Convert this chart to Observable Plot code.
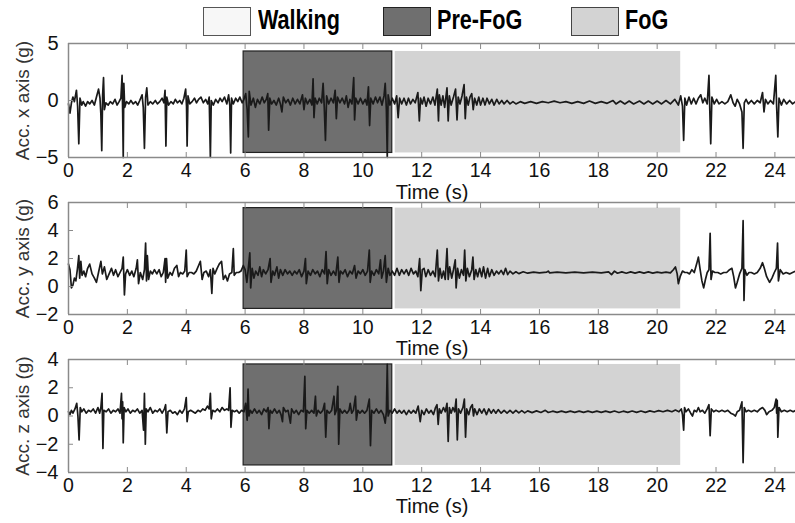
<!DOCTYPE html>
<html><head><meta charset="utf-8">
<script src="https://cdn.jsdelivr.net/npm/d3@7"></script>
<script src="https://cdn.jsdelivr.net/npm/@observablehq/plot@0.6"></script>
<style>
html,body{margin:0;padding:0;background:#fff;}
#root{position:relative;width:795px;height:523px;overflow:hidden;font-family:"Liberation Sans",Arial,sans-serif;}
.panel{position:absolute;left:0;}
.lbox{position:absolute;top:7px;width:48px;height:29px;border:1.5px solid #444;box-sizing:border-box;}
.ltext{position:absolute;top:3px;font-weight:bold;font-size:27px;line-height:34px;color:#000;transform:scaleX(0.8);transform-origin:left center;white-space:nowrap;}
</style></head><body><div id="root"></div>
<script>
// ---- data (time in s, acceleration in g) ----
const accX = [[0,-0.3],[0.05,-1.1],[0.1,-0.2],[0.15,0.3],[0.2,-0.1],[0.27,0.9],[0.31,-0.5],[0.35,-3.8],[0.39,0.2],[0.45,-0.4],[0.5,-0.1],[0.58,-0.5],[0.65,-0.1],[0.72,-0.3],[0.8,0.0],[0.88,-0.4],[0.95,0.3],[1.02,1.0],[1.07,0.2],[1.1,-1.2],[1.13,-4.4],[1.16,0.5],[1.19,2.0],[1.22,-0.8],[1.27,-0.2],[1.35,-0.4],[1.42,-0.1],[1.5,-0.3],[1.58,0.1],[1.65,-0.4],[1.72,-0.1],[1.78,0.2],[1.82,2.2],[1.84,-1.0],[1.86,-5.0],[1.88,1.5],[1.91,-0.6],[1.97,-0.1],[2.05,-0.3],[2.12,0.0],[2.2,-0.3],[2.28,-0.1],[2.35,-0.4],[2.42,0.0],[2.5,0.5],[2.54,-0.6],[2.58,-4.2],[2.62,0.3],[2.66,1.1],[2.7,-0.4],[2.78,-0.1],[2.86,-0.3],[2.95,0.0],[3.02,-0.3],[3.1,-0.1],[3.18,0.2],[3.24,-0.2],[3.28,0.9],[3.31,-4.0],[3.34,0.3],[3.4,-0.4],[3.48,-0.1],[3.56,-0.3],[3.63,0.1],[3.7,-0.2],[3.78,0.0],[3.85,-0.3],[3.92,0.2],[3.98,1.0],[4.01,-0.5],[4.03,-4.0],[4.06,0.4],[4.12,-0.3],[4.2,-0.1],[4.28,0.2],[4.35,-0.2],[4.42,0.1],[4.5,0.3],[4.58,-0.2],[4.66,0.1],[4.73,-0.3],[4.78,0.3],[4.82,-5.0],[4.85,0.0],[4.92,-0.4],[5.0,0.1],[5.08,-0.2],[5.15,0.2],[5.22,-0.1],[5.3,0.3],[5.38,-0.3],[5.44,0.5],[5.48,-0.4],[5.51,-4.6],[5.54,0.2],[5.6,-0.3],[5.68,0.2],[5.75,-0.1],[5.82,0.3],[5.9,-0.2],[5.96,0.1],[6.02,0.6],[6.07,-0.8],[6.11,-3.2],[6.14,0.8],[6.2,-0.4],[6.28,0.2],[6.35,-0.6],[6.42,0.1],[6.5,-0.3],[6.58,0.3],[6.65,-0.2],[6.72,0.1],[6.77,0.6],[6.8,-2.6],[6.84,0.2],[6.9,-0.3],[6.98,0.0],[7.06,-0.4],[7.14,0.2],[7.2,-0.3],[7.25,-1.0],[7.3,0.3],[7.38,-0.2],[7.46,0.1],[7.54,-0.4],[7.62,0.2],[7.7,-0.3],[7.78,0.1],[7.86,-0.3],[7.95,0.5],[8.0,-0.8],[8.05,0.2],[8.12,-0.3],[8.2,0.1],[8.27,-0.4],[8.31,1.9],[8.34,-1.5],[8.38,0.2],[8.45,-0.3],[8.52,0.2],[8.6,-0.2],[8.65,1.5],[8.69,-0.6],[8.73,-3.5],[8.77,0.4],[8.84,-0.3],[8.92,0.2],[9.0,-0.2],[9.06,0.9],[9.1,-1.6],[9.14,0.3],[9.22,-0.2],[9.3,0.2],[9.38,-0.3],[9.44,0.4],[9.5,-0.6],[9.56,0.1],[9.63,-0.3],[9.69,2.0],[9.72,-1.7],[9.76,0.2],[9.84,-0.3],[9.92,0.2],[10.0,-0.3],[10.08,0.1],[10.14,-0.4],[10.19,1.2],[10.23,-2.2],[10.27,0.2],[10.35,-0.3],[10.43,0.3],[10.5,-0.2],[10.58,0.3],[10.65,-0.4],[10.72,0.4],[10.76,1.5],[10.8,-0.8],[10.83,-5.0],[10.86,0.5],[10.92,-0.4],[11.0,0.2],[11.08,-0.3],[11.15,0.4],[11.2,-1.5],[11.25,0.2],[11.32,-0.3],[11.4,0.2],[11.48,-0.4],[11.55,0.2],[11.62,-0.3],[11.7,0.1],[11.78,-0.2],[11.87,0.7],[11.92,-1.8],[11.96,0.2],[12.02,-0.3],[12.08,0.3],[12.15,-0.5],[12.22,0.2],[12.3,-0.3],[12.38,0.3],[12.45,-0.4],[12.53,1.0],[12.57,-1.8],[12.6,0.5],[12.66,-0.4],[12.72,0.4],[12.78,-0.6],[12.86,1.1],[12.9,-1.8],[12.94,0.4],[13.0,-0.4],[13.08,0.3],[13.15,1.0],[13.2,-1.7],[13.24,0.3],[13.3,-0.3],[13.37,0.4],[13.44,1.4],[13.48,-1.6],[13.52,0.3],[13.58,-0.4],[13.64,0.3],[13.7,0.6],[13.75,-0.8],[13.8,0.2],[13.87,-0.4],[13.94,0.3],[14.0,-0.4],[14.08,0.2],[14.15,-0.4],[14.22,0.2],[14.3,-0.3],[14.38,0.1],[14.46,-0.4],[14.55,0.1],[14.63,-0.3],[14.72,0.0],[14.8,-0.3],[14.9,0.0],[15.0,-0.3],[15.1,-0.1],[15.2,-0.3],[15.35,-0.1],[15.5,-0.25],[15.7,-0.1],[15.9,-0.25],[16.1,-0.1],[16.3,-0.2],[16.5,-0.05],[16.7,-0.2],[16.9,-0.1],[17.1,-0.25],[17.3,-0.1],[17.5,-0.25],[17.7,-0.05],[17.9,-0.25],[18.1,-0.1],[18.3,-0.25],[18.5,0.0],[18.6,-0.3],[18.75,-0.05],[18.9,-0.3],[19.05,-0.05],[19.2,-0.3],[19.4,-0.05],[19.55,-0.3],[19.7,-0.05],[19.85,-0.3],[20.0,-0.05],[20.15,-0.3],[20.3,0.0],[20.45,-0.3],[20.6,0.1],[20.72,-0.4],[20.8,0.4],[20.86,-0.5],[20.9,-3.5],[20.94,0.2],[21.0,-0.4],[21.08,0.3],[21.16,-0.3],[21.24,0.2],[21.32,-0.3],[21.4,0.2],[21.48,0.5],[21.55,-0.2],[21.62,0.2],[21.7,-0.3],[21.76,2.2],[21.79,-1.0],[21.82,-3.8],[21.86,0.3],[21.94,-0.3],[22.02,0.1],[22.1,-0.3],[22.2,-0.1],[22.3,-0.3],[22.4,-0.1],[22.5,0.5],[22.58,-0.2],[22.65,-0.5],[22.72,0.1],[22.8,-0.3],[22.88,-1.0],[22.92,-4.2],[22.96,-0.2],[23.02,0.1],[23.1,-0.3],[23.2,0.0],[23.3,-0.3],[23.4,0.0],[23.5,-0.2],[23.58,0.7],[23.63,-1.0],[23.68,0.1],[23.76,-0.3],[23.85,0.0],[23.95,-0.3],[24.03,2.2],[24.06,-0.6],[24.1,-3.2],[24.14,0.2],[24.22,-0.4],[24.3,0.1],[24.4,-0.3],[24.5,0.0],[24.6,-0.3],[24.7,-0.1]];

const accY = [[0,1.6],[0.05,1.2],[0.1,-0.1],[0.15,0.1],[0.2,0.6],[0.25,0.4],[0.3,1.2],[0.35,2.2],[0.38,0.6],[0.42,1.8],[0.46,0.8],[0.52,1.1],[0.58,0.7],[0.65,1.3],[0.72,1.6],[0.8,0.9],[0.88,0.6],[0.95,0.3],[1.02,1.0],[1.1,1.8],[1.15,0.9],[1.22,1.4],[1.3,0.5],[1.38,0.9],[1.46,1.3],[1.53,0.8],[1.6,1.2],[1.68,0.7],[1.75,1.0],[1.82,1.3],[1.86,2.1],[1.9,-0.6],[1.94,0.9],[2.0,1.2],[2.08,0.8],[2.15,1.1],[2.22,0.7],[2.3,1.3],[2.34,1.9],[2.38,0.2],[2.44,1.0],[2.52,0.5],[2.58,1.2],[2.62,3.1],[2.65,0.4],[2.68,2.2],[2.72,0.5],[2.78,1.1],[2.85,0.9],[2.92,1.2],[3.0,0.9],[3.08,1.2],[3.15,0.7],[3.22,1.0],[3.28,2.0],[3.3,0.3],[3.33,2.0],[3.37,0.6],[3.45,1.0],[3.52,0.8],[3.6,1.3],[3.68,1.5],[3.74,0.7],[3.8,1.0],[3.88,0.9],[3.95,1.1],[4.0,2.6],[4.03,0.7],[4.1,1.0],[4.18,1.0],[4.26,0.9],[4.34,1.1],[4.42,1.5],[4.48,1.8],[4.54,0.5],[4.6,1.0],[4.68,1.1],[4.76,0.7],[4.82,1.2],[4.87,-0.5],[4.91,1.3],[4.97,0.9],[5.05,1.3],[5.12,1.6],[5.2,1.8],[5.26,0.5],[5.33,0.8],[5.4,0.4],[5.47,0.9],[5.55,1.0],[5.6,2.7],[5.63,0.8],[5.7,1.0],[5.78,1.0],[5.86,1.1],[5.94,1.5],[6.0,1.2],[6.06,0.3],[6.1,1.1],[6.16,2.4],[6.19,-0.1],[6.24,1.3],[6.3,0.6],[6.36,1.1],[6.44,0.8],[6.5,1.4],[6.56,0.7],[6.62,1.2],[6.7,0.9],[6.78,1.2],[6.85,2.0],[6.88,0.3],[6.94,1.1],[7.0,0.8],[7.08,1.4],[7.14,0.6],[7.2,1.2],[7.28,0.8],[7.36,1.2],[7.44,0.9],[7.52,1.1],[7.6,0.8],[7.68,1.1],[7.76,0.9],[7.84,1.2],[7.92,0.7],[8.0,1.1],[8.05,2.0],[8.08,0.2],[8.14,1.1],[8.22,0.8],[8.3,1.2],[8.38,0.9],[8.46,1.1],[8.54,0.7],[8.62,1.2],[8.7,0.9],[8.75,2.5],[8.79,0.2],[8.84,1.2],[8.92,0.8],[9.0,1.1],[9.08,0.8],[9.15,2.1],[9.19,0.3],[9.24,1.1],[9.32,0.9],[9.4,1.2],[9.48,0.7],[9.56,1.1],[9.64,0.9],[9.72,1.5],[9.77,0.6],[9.84,1.1],[9.92,0.9],[10.0,1.2],[10.08,0.8],[10.16,1.1],[10.22,2.6],[10.25,0.3],[10.3,1.1],[10.38,0.8],[10.46,1.2],[10.54,0.9],[10.6,1.9],[10.64,0.6],[10.7,1.1],[10.76,2.2],[10.8,0.3],[10.86,1.3],[10.92,0.8],[11.0,1.1],[11.08,0.8],[11.16,1.3],[11.24,0.8],[11.32,1.2],[11.4,0.9],[11.48,1.2],[11.56,0.8],[11.64,1.3],[11.72,0.9],[11.8,1.1],[11.87,0.7],[11.93,2.0],[11.97,-0.3],[12.02,1.2],[12.08,1.3],[12.14,0.7],[12.22,1.2],[12.3,0.8],[12.38,1.1],[12.46,0.7],[12.53,2.6],[12.57,0.4],[12.62,1.3],[12.68,0.6],[12.74,1.1],[12.8,0.5],[12.86,2.7],[12.9,0.5],[12.95,1.4],[13.02,0.6],[13.08,1.2],[13.14,1.9],[13.17,-0.1],[13.22,1.3],[13.28,0.6],[13.35,1.2],[13.42,0.8],[13.46,2.6],[13.5,0.4],[13.55,1.3],[13.62,0.7],[13.7,1.2],[13.74,2.1],[13.78,0.5],[13.84,1.2],[13.9,0.7],[13.97,1.3],[14.04,0.7],[14.1,1.4],[14.17,0.6],[14.24,1.3],[14.3,0.7],[14.38,1.2],[14.46,0.8],[14.54,1.1],[14.62,0.9],[14.7,1.15],[14.78,0.85],[14.85,1.3],[14.92,0.85],[15.0,1.1],[15.1,0.9],[15.2,1.05],[15.3,0.92],[15.45,1.05],[15.6,0.95],[15.8,1.03],[16.0,0.97],[16.25,1.03],[16.3,1.1],[16.35,0.97],[16.6,1.02],[16.9,0.97],[17.2,1.02],[17.5,0.97],[17.8,1.02],[18.1,0.97],[18.35,1.04],[18.45,0.85],[18.55,1.1],[18.65,0.95],[18.8,1.04],[18.95,0.95],[19.1,1.04],[19.25,0.96],[19.4,1.04],[19.55,0.96],[19.7,1.04],[19.85,0.96],[20.0,1.03],[20.15,0.97],[20.3,1.03],[20.45,0.97],[20.55,1.2],[20.62,1.4],[20.68,0.9],[20.72,0.2],[20.78,0.7],[20.86,1.1],[20.94,1.0],[21.02,1.0],[21.1,0.9],[21.18,1.2],[21.26,1.0],[21.34,1.6],[21.4,2.1],[21.46,1.2],[21.52,0.4],[21.58,-0.1],[21.64,0.5],[21.7,1.0],[21.76,1.2],[21.8,3.8],[21.83,0.5],[21.88,1.1],[21.96,1.0],[22.06,1.0],[22.16,0.9],[22.26,1.0],[22.36,1.0],[22.46,1.2],[22.54,1.3],[22.6,0.7],[22.66,-0.1],[22.72,0.3],[22.8,0.9],[22.88,1.3],[22.92,4.7],[22.95,-1.0],[22.98,1.2],[23.05,0.8],[23.12,1.0],[23.2,1.0],[23.3,0.9],[23.4,1.0],[23.5,1.3],[23.58,1.7],[23.64,1.3],[23.72,0.7],[23.82,0.3],[23.9,0.6],[23.98,1.0],[24.05,1.3],[24.09,3.1],[24.12,0.4],[24.18,1.2],[24.28,0.9],[24.38,1.0],[24.5,0.9],[24.6,1.0],[24.7,1.1]];

const accZ = [[0,0.3],[0.05,0.1],[0.1,0.4],[0.15,0.2],[0.22,0.5],[0.28,0.9],[0.32,0.0],[0.36,-1.7],[0.4,0.6],[0.45,0.3],[0.52,0.5],[0.6,0.2],[0.68,0.4],[0.76,0.3],[0.84,0.5],[0.92,0.2],[1.0,0.6],[1.06,0.2],[1.1,0.6],[1.14,1.6],[1.17,-2.3],[1.2,0.4],[1.28,0.3],[1.36,0.5],[1.44,0.2],[1.52,0.4],[1.6,0.3],[1.68,0.5],[1.75,0.2],[1.8,1.6],[1.82,-0.2],[1.84,1.0],[1.86,-1.9],[1.89,0.6],[1.95,0.3],[2.02,0.5],[2.1,0.2],[2.18,0.4],[2.26,0.3],[2.34,0.5],[2.42,0.2],[2.5,0.4],[2.55,-1.0],[2.58,1.6],[2.61,-2.0],[2.64,0.5],[2.7,0.3],[2.78,0.6],[2.86,0.2],[2.94,0.4],[3.02,0.3],[3.1,0.5],[3.18,0.2],[3.26,0.5],[3.3,0.8],[3.34,-1.2],[3.38,0.3],[3.46,0.4],[3.54,0.2],[3.62,0.3],[3.7,0.1],[3.78,0.4],[3.86,0.2],[3.94,0.5],[4.0,1.3],[4.03,-0.4],[4.07,0.3],[4.15,0.4],[4.23,0.3],[4.31,0.2],[4.4,0.4],[4.48,0.3],[4.56,0.5],[4.64,0.4],[4.72,0.7],[4.78,0.5],[4.82,1.6],[4.85,-0.2],[4.9,0.4],[4.98,0.3],[5.06,0.5],[5.14,0.3],[5.22,0.6],[5.3,0.4],[5.38,0.5],[5.44,0.4],[5.49,2.0],[5.52,-0.8],[5.56,0.4],[5.64,0.3],[5.72,0.4],[5.8,0.2],[5.88,0.4],[5.96,0.3],[6.02,0.9],[6.07,-0.3],[6.1,1.9],[6.13,0.0],[6.18,0.4],[6.24,0.2],[6.32,0.5],[6.4,0.2],[6.48,0.4],[6.56,0.1],[6.64,0.5],[6.72,0.3],[6.78,0.6],[6.81,-0.9],[6.85,0.4],[6.92,0.2],[7.0,0.5],[7.08,0.2],[7.16,0.4],[7.22,0.1],[7.27,-0.4],[7.3,0.6],[7.38,0.3],[7.46,0.4],[7.54,-0.5],[7.58,0.5],[7.66,0.2],[7.74,0.4],[7.82,0.1],[7.9,0.4],[7.98,0.3],[8.03,2.8],[8.06,-0.9],[8.1,0.4],[8.18,0.2],[8.26,0.4],[8.34,0.2],[8.39,1.4],[8.42,0.0],[8.48,0.4],[8.56,0.2],[8.64,0.4],[8.7,0.9],[8.74,-1.5],[8.78,0.4],[8.86,0.2],[8.94,0.4],[9.02,1.4],[9.05,0.1],[9.1,0.4],[9.15,2.1],[9.18,-2.0],[9.22,0.5],[9.3,0.2],[9.38,0.4],[9.46,0.2],[9.53,0.4],[9.57,0.9],[9.62,0.2],[9.68,0.4],[9.75,1.4],[9.78,-0.3],[9.83,0.4],[9.9,0.2],[9.98,0.4],[10.06,0.2],[10.14,0.4],[10.22,1.2],[10.26,-2.1],[10.3,0.4],[10.38,0.2],[10.46,0.5],[10.54,0.2],[10.62,0.4],[10.7,0.1],[10.76,-0.5],[10.8,0.3],[10.83,3.65],[10.86,0.0],[10.92,0.4],[11.0,0.2],[11.08,0.5],[11.16,0.2],[11.24,0.4],[11.32,0.2],[11.4,0.4],[11.48,0.1],[11.56,0.4],[11.64,0.2],[11.72,0.4],[11.8,0.2],[11.88,0.7],[11.95,-0.4],[12.0,0.4],[12.08,0.1],[12.16,0.5],[12.24,0.2],[12.32,0.4],[12.4,0.1],[12.47,0.6],[12.52,0.8],[12.56,-0.6],[12.6,0.5],[12.66,0.2],[12.74,0.6],[12.8,0.3],[12.86,0.9],[12.9,-1.8],[12.94,0.6],[13.0,0.2],[13.06,0.6],[13.12,0.3],[13.17,1.2],[13.21,-1.7],[13.25,0.5],[13.32,0.2],[13.4,0.6],[13.45,1.2],[13.49,-1.5],[13.53,0.5],[13.6,0.1],[13.66,0.6],[13.72,0.8],[13.76,0.0],[13.8,0.5],[13.88,0.1],[13.96,0.5],[14.04,0.2],[14.12,0.5],[14.2,0.1],[14.28,0.5],[14.36,0.2],[14.44,0.45],[14.52,0.2],[14.6,0.45],[14.7,0.2],[14.8,0.4],[14.9,0.2],[15.0,0.4],[15.1,0.2],[15.2,0.4],[15.3,0.22],[15.4,0.38],[15.5,0.22],[15.6,0.36],[15.75,0.24],[15.9,0.36],[16.05,0.25],[16.2,0.4],[16.3,0.25],[16.45,0.34],[16.6,0.26],[16.75,0.34],[16.9,0.26],[17.05,0.34],[17.2,0.26],[17.35,0.34],[17.5,0.26],[17.65,0.34],[17.8,0.26],[17.95,0.34],[18.1,0.26],[18.25,0.34],[18.4,0.26],[18.55,0.35],[18.7,0.25],[18.85,0.34],[19.0,0.26],[19.15,0.35],[19.3,0.26],[19.45,0.35],[19.6,0.26],[19.75,0.36],[19.9,0.28],[20.05,0.38],[20.2,0.3],[20.35,0.4],[20.5,0.3],[20.62,0.42],[20.74,0.3],[20.82,0.5],[20.86,0.1],[20.9,-1.0],[20.93,0.6],[20.98,0.3],[21.06,0.5],[21.14,0.2],[21.2,0.0],[21.26,0.4],[21.34,0.3],[21.4,0.6],[21.46,0.3],[21.54,0.4],[21.62,0.2],[21.7,0.5],[21.76,0.8],[21.8,-1.4],[21.84,0.5],[21.92,0.3],[22.0,0.4],[22.1,0.3],[22.2,0.4],[22.3,0.3],[22.4,0.4],[22.5,0.2],[22.6,0.1],[22.66,0.0],[22.72,0.3],[22.8,0.4],[22.88,1.0],[22.92,-3.3],[22.96,0.6],[23.02,0.3],[23.1,0.4],[23.2,0.3],[23.3,0.4],[23.4,0.3],[23.5,0.5],[23.58,0.6],[23.66,0.4],[23.72,0.1],[23.8,0.3],[23.9,0.4],[23.98,0.6],[24.04,1.2],[24.06,0.2],[24.08,1.1],[24.1,-1.5],[24.14,0.6],[24.22,0.3],[24.32,0.4],[24.42,0.3],[24.52,0.4],[24.62,0.3],[24.7,0.4]];

const timeTicks = [0, 2, 4, 6, 8, 10, 12, 14, 16, 18, 20, 22, 24];
const timeDomain = [0, 24.7];
const phaseNames = ["Walking", "Pre-FoG", "FoG"];
const phaseStart = [null, 5.95, 11.1];
const phaseEnd = [null, 11.0, 20.8];
const axisLabels = ["Acc. x axis (g)", "Acc. y axis (g)", "Acc. z axis (g)"];
const yDomains = [[-5, 5], [-2, 6], [-4, 4]];
const yTicks = [[-5, 0, 5], [-2, 0, 2, 4, 6], [-4, -2, 0, 2, 4]];
const bandLow = [-4.6, -1.6, -3.5];
const bandHigh = [4.3, 5.6, 3.65];
const series = [accX, accY, accZ];
const xLabel = "Time (s)";

// ---- styles / layout ----
const phaseFill = {"Walking": "#f7f7f7", "Pre-FoG": "#6f6f6f", "FoG": "#d3d3d3"};
const phaseStroke = {"Walking": "#555", "Pre-FoG": "#222", "FoG": "#444"};
const layout = [
  {top: 33, frame: 114, bottom: 48},
  {top: 192, frame: 112, bottom: 48},
  {top: 349, frame: 113, bottom: 50}
];
const labelDy = [41, 40.5, 40];
const gray = "#8a8a8a";
const font = "'Liberation Sans', Arial, sans-serif";

const root = document.getElementById("root");

const phases = phaseNames.map((name, i) => ({name, start: phaseStart[i], end: phaseEnd[i]})).filter(d => d.start != null);

series.forEach((data, i) => {
  const L = layout[i];
  const chart = Plot.plot({
    width: 795,
    height: 10 + L.frame + L.bottom,
    marginTop: 10, marginBottom: L.bottom, marginLeft: 68, marginRight: 0,
    style: {background: "transparent", fontFamily: font, fontSize: "20px", color: "#111", overflow: "visible"},
    x: {domain: timeDomain},
    y: {domain: yDomains[i]},
    marks: [
      Plot.rect(phases, {
        x1: "start", x2: "end", y1: () => bandLow[i], y2: () => bandHigh[i],
        fill: d => phaseFill[d.name], stroke: d => phaseStroke[d.name],
        strokeWidth: d => d.name === "Pre-FoG" ? 1.2 : 0
      }),
      Plot.line(data, {x: d => d[0], y: d => d[1], stroke: "#1a1a1a", strokeWidth: 1.7}),
      Plot.ruleY(yDomains[i], {stroke: gray, strokeWidth: 1.5}),
      Plot.ruleX([timeDomain[0]], {stroke: gray, strokeWidth: 1.5}),
      Plot.axisX({ticks: timeTicks, tickSize: -5, tickPadding: 11, stroke: gray, fill: "#111", fontSize: 19.5, label: null}),
      Plot.axisX({anchor: "top", ticks: timeTicks, tickSize: -5, tickFormat: () => "", stroke: gray, label: null}),
      Plot.axisY({ticks: yTicks[i], tickSize: -5, tickPadding: 15, stroke: gray, fill: "#111", fontSize: 20, label: null}),
      Plot.text([xLabel], {frameAnchor: "bottom", textAnchor: "middle", dy: labelDy[i], fontSize: 20, fill: "#111"}),
      Plot.text([axisLabels[i]], {frameAnchor: "left", textAnchor: "middle", rotate: -90, dx: -46, fontSize: 19, fill: "#333"})
    ]
  });
  chart.classList.add("panel");
  chart.style.top = L.top + "px";
  chart.style.position = "absolute";
  chart.style.left = "0px";
  root.appendChild(chart);
});

// legend
const legendPos = [{box: 203, text: 258}, {box: 383, text: 437}, {box: 571, text: 625}];
phaseNames.forEach((name, i) => {
  const b = document.createElement("div");
  b.className = "lbox";
  b.style.left = legendPos[i].box + "px";
  b.style.background = phaseFill[name];
  b.style.borderColor = phaseStroke[name];
  root.appendChild(b);
  const t = document.createElement("div");
  t.className = "ltext";
  t.style.left = legendPos[i].text + "px";
  t.textContent = name;
  root.appendChild(t);
});
</script>
</body></html>
